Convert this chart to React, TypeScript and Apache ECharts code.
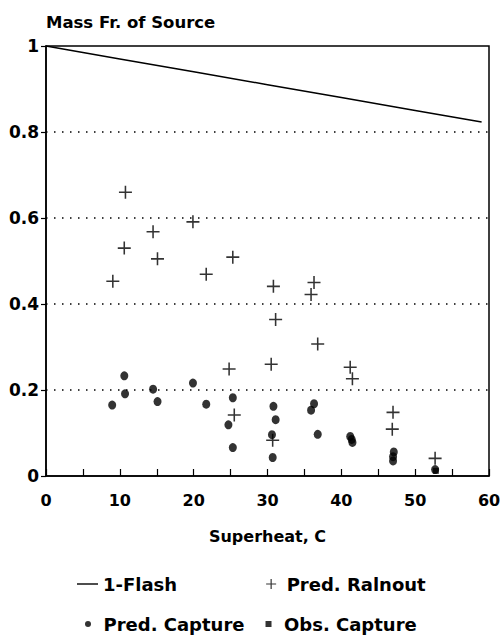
import React, { useEffect, useRef } from "react";
import * as echarts from "echarts";

const flashX = [0, 10, 20, 30, 40, 50, 59];
const flashY = [1, 0.97, 0.94, 0.91, 0.88, 0.85, 0.823];

const rainoutX = [9.05, 10.6, 10.76, 14.5, 15.1, 19.9, 21.7, 25.3, 24.8, 25.5, 30.8, 31.1, 30.5, 30.7, 36.3, 35.9, 36.8, 41.2, 41.5, 47.0, 46.9, 52.7];
const rainoutY = [0.453, 0.53, 0.66, 0.568, 0.505, 0.591, 0.469, 0.509, 0.249, 0.142, 0.441, 0.364, 0.26, 0.083, 0.45, 0.422, 0.307, 0.253, 0.226, 0.148, 0.109, 0.041];

const captureX = [8.96, 10.6, 10.7, 14.5, 15.1, 19.9, 21.7, 25.3, 24.7, 25.3, 30.8, 31.1, 30.6, 30.7, 36.3, 35.9, 36.8, 41.2, 41.4, 41.5, 47.1, 47.0, 47.0, 52.7];
const captureY = [0.165, 0.233, 0.191, 0.202, 0.173, 0.216, 0.167, 0.182, 0.119, 0.066, 0.162, 0.131, 0.096, 0.043, 0.168, 0.153, 0.097, 0.092, 0.085, 0.078, 0.056, 0.045, 0.035, 0.015];

const obsX = [52.8];
const obsY = [0.012];

const zip = (xs: number[], ys: number[]) => xs.map((x, i) => [x, ys[i]]);

const PLUS = "path://M4.4,0H5.6V4.4H10V5.6H5.6V10H4.4V5.6H0V4.4H4.4Z";
const LINE_ICON = "path://M0,0H21V1.4H0Z";
const SQUARE = "path://M0,0H1V1H0Z";
const DOT = "path://M0.5,0A0.5,0.5,0,1,1,0.5,1A0.5,0.5,0,1,1,0.5,0Z";
const FONT = "DejaVu Sans";

export default function App() {
  const ref = useRef<HTMLDivElement>(null);
  useEffect(() => {
    if (!ref.current) return;
    document.body.style.margin = "0";
    const chart = echarts.init(ref.current, null, { renderer: "svg" });
    const legendText = { fontFamily: FONT, fontWeight: "bold", fontSize: 18, color: "#000" };
    chart.setOption({
      animation: false,
      backgroundColor: "#fff",
      textStyle: { fontFamily: FONT, fontWeight: "bold", color: "#000" },
      grid: {
        left: 46,
        right: 15,
        top: 46,
        bottom: 160,
        show: true,
        borderColor: "#000",
        borderWidth: 1.5,
      },
      legend: [
        {
          left: 77,
          top: 575,
          padding: 0,
          itemWidth: 21,
          itemHeight: 10,
          itemGap: 89,
          textStyle: legendText,
          data: [
            { name: "1-Flash", icon: LINE_ICON },
            { name: "Pred. Ralnout", icon: PLUS },
          ],
        },
        {
          left: 85,
          top: 615,
          padding: 0,
          itemWidth: 21,
          itemHeight: 6,
          itemGap: 21,
          textStyle: legendText,
          data: [
            { name: "Pred. Capture", icon: DOT },
            { name: "Obs. Capture", icon: SQUARE },
          ],
        },
      ],
      xAxis: {
        type: "value",
        min: 0,
        max: 60,
        interval: 10,
        name: "Superheat, C",
        nameLocation: "middle",
        nameGap: 52,
        nameTextStyle: { fontFamily: FONT, fontWeight: "bold", fontSize: 16, color: "#000" },
        axisLine: { show: true, lineStyle: { color: "#000", width: 1.5 } },
        axisTick: { show: true, inside: true, length: 7, lineStyle: { color: "#000", width: 1.2 } },
        minorTick: { show: true, splitNumber: 2, length: 7, lineStyle: { color: "#000", width: 1.2 } },
        axisLabel: { fontFamily: FONT, fontWeight: "bold", fontSize: 16, color: "#000", margin: 16 },
        splitLine: { show: false },
      },
      yAxis: {
        type: "value",
        min: 0,
        max: 1,
        interval: 0.2,
        name: "Mass Fr. of Source",
        nameLocation: "end",
        nameGap: 15,
        nameTextStyle: { fontFamily: FONT, fontWeight: "bold", fontSize: 16.5, color: "#000", align: "left" },
        axisLine: { show: true, lineStyle: { color: "#000", width: 1.5 } },
        axisTick: { show: true, inside: false, length: 5, lineStyle: { color: "#000", width: 1.2 } },
        axisLabel: { fontFamily: FONT, fontWeight: "bold", fontSize: 17, color: "#000", margin: 7 },
        splitLine: {
          show: true,
          showMinLine: false,
          showMaxLine: false,
          lineStyle: { color: "#000", width: 1.5, type: [1.5, 6.5] },
        },
      },
      series: [
        {
          name: "1-Flash",
          type: "line",
          data: zip(flashX, flashY),
          symbol: "none",
          lineStyle: { color: "#000", width: 1.5 },
          itemStyle: { color: "#000" },
        },
        {
          name: "Pred. Ralnout",
          type: "scatter",
          data: zip(rainoutX, rainoutY),
          symbol: PLUS,
          symbolSize: 13,
          itemStyle: { color: "#000" },
        },
        {
          name: "Pred. Capture",
          type: "scatter",
          data: zip(captureX, captureY),
          symbol: "circle",
          symbolSize: [8, 9],
          itemStyle: { color: "#000" },
        },
        {
          name: "Obs. Capture",
          type: "scatter",
          data: zip(obsX, obsY),
          symbol: "rect",
          symbolSize: 6,
          itemStyle: { color: "#000" },
        },
      ],
    });
    return () => chart.dispose();
  }, []);
  return <div ref={ref} style={{ width: 504, height: 636 }} />;
}
